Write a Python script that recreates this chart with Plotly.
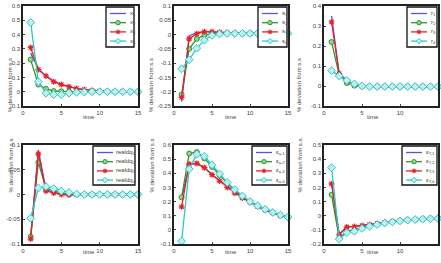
import plotly.graph_objects as go

W, H = 441, 263
time = list(range(1, 16))

x1 = [0.27, 0.16, 0.11, 0.075, 0.05, 0.035, 0.023, 0.015, 0.01, 0.006, 0.004, 0.002, 0.001, 0.0, 0.0]
x2 = [0.225, 0.05, 0.02, 0.005, 0.003, 0.002, 0.001, 0.0, 0.0, 0.0, 0.0, 0.0, 0.0, 0.0, 0.0]
x3 = [0.31, 0.155, 0.11, 0.07, 0.05, 0.035, 0.022, 0.015, 0.008, 0.005, 0.003, 0.002, 0.001, 0.0, 0.0]
x4 = [0.485, 0.07, -0.01, -0.02, -0.02, -0.01, -0.005, -0.002, 0.0, 0.0, 0.0, 0.0, 0.0, 0.0, 0.0]

s1 = [-0.235, -0.005, 0.007, 0.01, 0.008, 0.007, 0.006, 0.005, 0.004, 0.004, 0.004, 0.004, 0.004, 0.004, 0.004]
s2 = [-0.21, -0.05, -0.015, -0.002, 0.003, 0.004, 0.004, 0.004, 0.004, 0.004, 0.004, 0.004, 0.004, 0.004, 0.004]
s3 = [-0.22, -0.015, 0.003, 0.01, 0.01, 0.008, 0.006, 0.005, 0.004, 0.004, 0.004, 0.004, 0.004, 0.004, 0.004]
s4 = [-0.12, -0.088, -0.048, -0.02, -0.003, 0.002, 0.004, 0.004, 0.004, 0.004, 0.004, 0.004, 0.004, 0.004, 0.004]

r1 = [0.35, 0.06, 0.03, 0.005, -0.002, -0.003, -0.003, -0.003, -0.003, -0.003, -0.003, -0.003, -0.003, -0.003, -0.003]
r2 = [0.22, 0.055, 0.015, 0.002, -0.002, -0.003, -0.003, -0.003, -0.003, -0.003, -0.003, -0.003, -0.003, -0.003, -0.003]
r3 = [0.32, 0.062, 0.025, 0.005, -0.002, -0.003, -0.003, -0.003, -0.003, -0.003, -0.003, -0.003, -0.003, -0.003, -0.003]
r4 = [0.077, 0.05, 0.028, 0.01, 0.0, -0.003, -0.003, -0.003, -0.003, -0.003, -0.003, -0.003, -0.003, -0.003, -0.003]

q1 = [-0.085, 0.09, 0.01, 0.004, 0.001, 0.0, 0.0, 0.0, 0.0, 0.0, 0.0, 0.0, 0.0, 0.0, 0.0]
q2 = [-0.085, 0.065, 0.012, 0.007, 0.003, 0.001, 0.0, 0.0, 0.0, 0.0, 0.0, 0.0, 0.0, 0.0, 0.0]
q3 = [-0.09, 0.082, 0.007, 0.003, 0.0, -0.001, 0.0, 0.0, 0.0, 0.0, 0.0, 0.0, 0.0, 0.0, 0.0]
q4 = [-0.048, 0.013, 0.016, 0.012, 0.007, 0.004, 0.001, 0.0, 0.0, 0.0, 0.0, 0.0, 0.0, 0.0, 0.0]

ea1 = [0.22, 0.46, 0.47, 0.44, 0.39, 0.35, 0.305, 0.265, 0.23, 0.195, 0.165, 0.14, 0.12, 0.105, 0.09]
ea2 = [0.23, 0.54, 0.55, 0.505, 0.445, 0.385, 0.33, 0.28, 0.235, 0.2, 0.17, 0.145, 0.123, 0.105, 0.09]
ea3 = [0.163, 0.465, 0.47, 0.44, 0.39, 0.345, 0.3, 0.26, 0.225, 0.195, 0.165, 0.14, 0.12, 0.1, 0.088]
ea4 = [-0.08, 0.43, 0.535, 0.52, 0.46, 0.395, 0.335, 0.285, 0.24, 0.2, 0.17, 0.145, 0.123, 0.105, 0.09]

eT1 = [0.23, -0.13, -0.08, -0.075, -0.07, -0.062, -0.055, -0.047, -0.04, -0.035, -0.03, -0.027, -0.024, -0.021, -0.019]
eT2 = [0.148, -0.16, -0.11, -0.1, -0.085, -0.07, -0.06, -0.05, -0.042, -0.036, -0.031, -0.027, -0.024, -0.021, -0.019]
eT3 = [0.225, -0.135, -0.08, -0.077, -0.07, -0.062, -0.055, -0.047, -0.04, -0.035, -0.03, -0.027, -0.024, -0.021, -0.019]
eT4 = [0.34, -0.165, -0.12, -0.11, -0.09, -0.075, -0.063, -0.052, -0.044, -0.037, -0.031, -0.027, -0.024, -0.021, -0.019]

panels = [
    dict(series=[x1, x2, x3, x4], base="x", sub=["1", "2", "3", "4"],
         yr=[-0.1, 0.6], yt=[-0.1, 0, 0.1, 0.2, 0.3, 0.4, 0.5, 0.6],
         ytxt=["-0.1", "0", "0.1", "0.2", "0.3", "0.4", "0.5", "0.6"], ytitle="% deviation from s.s"),
    dict(series=[s1, s2, s3, s4], base="s", sub=["1", "2", "3", "4"],
         yr=[-0.25, 0.1], yt=[-0.25, -0.2, -0.15, -0.1, -0.05, 0, 0.05, 0.1],
         ytxt=["-0.25", "-0.2", "-0.15", "-0.1", "-0.05", "0", "0.05", "0.1"], ytitle="% deviation from s.s"),
    dict(series=[r1, r2, r3, r4], base="r", sub=["1", "2", "3", "4"],
         yr=[-0.1, 0.4], yt=[-0.1, 0, 0.1, 0.2, 0.3, 0.4],
         ytxt=["-0.1", "0", "0.1", "0.2", "0.3", "0.4"], ytitle="% deviation from s.s"),
    dict(series=[q1, q2, q3, q4], base="realdq", sub=["1", "2", "3", "4"],
         yr=[-0.1, 0.1], yt=[-0.1, -0.05, 0, 0.05, 0.1],
         ytxt=["-0.1", "-0.05", "0", "0.05", "0.1"], ytitle="% deviation from s.s"),
    dict(series=[ea1, ea2, ea3, ea4], base="ε", sub=["a,1", "a,2", "a,3", "a,4"],
         yr=[-0.1, 0.6], yt=[-0.1, 0, 0.1, 0.2, 0.3, 0.4, 0.5, 0.6],
         ytxt=["-0.1", "0", "0.1", "0.2", "0.3", "0.4", "0.5", "0.6"], ytitle="% deviation from s.s"),
    dict(series=[eT1, eT2, eT3, eT4], base="ε", sub=["T,1", "T,2", "T,3", "T,4"],
         yr=[-0.2, 0.5], yt=[-0.2, -0.1, 0, 0.1, 0.2, 0.3, 0.4, 0.5],
         ytxt=["-0.2", "-0.1", "0", "0.1", "0.2", "0.3", "0.4", "0.5"], ytitle="% deviation from s.s."),
]
xticks = [0, 5, 10, 15]

# layout geometry (pixels)
cols = [(23, 138), (174, 288), (324, 438)]
rows = [(6, 106), (145, 244)]
legboxes = [(106, 134, 7, 47), (258, 287, 7, 47), (407, 437, 7, 47),
            (93, 135, 146, 185), (252, 287, 146, 185), (402, 437, 146, 185)]
ytitle_x = [5, 151, 304]
xtitle_y = [117, 257]

colors = ["#5b50d6", "#2e962e", "#e52228", "#2ec8c8"]
markers = [None, dict(symbol="circle", size=5, color="#8fd48f", line=dict(color="#2e962e", width=1)),
           dict(symbol="asterisk-open", size=5, color="#e52228", line=dict(color="#e52228", width=1.2)),
           dict(symbol="diamond", size=6, color="#bff0f0", line=dict(color="#2ec8c8", width=1))]

def PX(px):
    return px / W

def PY(py):
    return 1 - py / H

fig = go.Figure()
layout = {}
shapes = []
annotations = []
FONT = "Liberation Sans, Arial"
axfont = dict(family=FONT, size=6, color="#444")

for i, p in enumerate(panels):
    r, c = divmod(i, 3)
    n = i + 1
    xa = "xaxis" if n == 1 else f"xaxis{n}"
    ya = "yaxis" if n == 1 else f"yaxis{n}"
    xref = "x" if n == 1 else f"x{n}"
    yref = "y" if n == 1 else f"y{n}"
    layout[xa] = dict(domain=[PX(cols[c][0]), PX(cols[c][1])], range=[0, 15], anchor=yref,
                      tickvals=xticks, ticktext=[str(t) for t in xticks], ticks="inside", ticklen=2,
                      showline=True, mirror=True, linecolor="#222", linewidth=1.5,
                      showgrid=False, zeroline=False, tickfont=axfont)
    layout[ya] = dict(domain=[PY(rows[r][1]), PY(rows[r][0])], range=p["yr"], anchor=xref,
                      tickvals=p["yt"], ticktext=p["ytxt"], ticks="inside", ticklen=2,
                      showline=True, mirror=True, linecolor="#222", linewidth=1.5,
                      showgrid=False, zeroline=False, tickfont=axfont)
    for k, ser in enumerate(p["series"]):
        fig.add_trace(go.Scatter(x=time, y=ser, xaxis=xref, yaxis=yref,
                                 mode="lines" if k == 0 else "lines+markers",
                                 line=dict(color=colors[k], width=1.3),
                                 marker=markers[k] if k else None,
                                 cliponaxis=False, showlegend=False))
    # axis titles
    annotations.append(dict(text=p["ytitle"], x=PX(ytitle_x[c]), y=PY((rows[r][0] + rows[r][1]) / 2),
                            xref="paper", yref="paper", showarrow=False, textangle=-90,
                            font=dict(family=FONT, size=6, color="#444")))
    annotations.append(dict(text="time", x=PX((cols[c][0] + cols[c][1]) / 2), y=PY(xtitle_y[r]),
                            xref="paper", yref="paper", showarrow=False,
                            font=dict(family=FONT, size=6, color="#444")))
    # legend box
    lx0, lx1, ly0, ly1 = legboxes[i]
    shapes.append(dict(type="rect", xref="paper", yref="paper", layer="above",
                       x0=PX(lx0), x1=PX(lx1), y0=PY(ly1), y1=PY(ly0),
                       fillcolor="white", line=dict(color="#111", width=1.3)))
    for k in range(4):
        yy = ly0 + 6.5 + 9.2 * k
        sx0 = lx0 + 4
        sx1 = sx0 + 16
        mx = (sx0 + sx1) / 2
        shapes.append(dict(type="line", xref="paper", yref="paper", layer="above",
                           x0=PX(sx0), x1=PX(sx1), y0=PY(yy), y1=PY(yy),
                           line=dict(color=colors[k], width=1.3)))
        if k == 1:
            shapes.append(dict(type="circle", xref="paper", yref="paper", layer="above",
                               x0=PX(mx - 2.2), x1=PX(mx + 2.2), y0=PY(yy + 2.2), y1=PY(yy - 2.2),
                               fillcolor="#8fd48f", line=dict(color=colors[k], width=1)))
        elif k == 2:
            for dx, dy in [(2.3, 0), (0, 2.3), (1.6, 1.6), (1.6, -1.6)]:
                shapes.append(dict(type="line", xref="paper", yref="paper", layer="above",
                                   x0=PX(mx - dx), x1=PX(mx + dx), y0=PY(yy - dy), y1=PY(yy + dy),
                                   line=dict(color=colors[k], width=1.1)))
        elif k == 3:
            d = 2.7
            path = (f"M {PX(mx - d)} {PY(yy)} L {PX(mx)} {PY(yy - d)} "
                    f"L {PX(mx + d)} {PY(yy)} L {PX(mx)} {PY(yy + d)} Z")
            shapes.append(dict(type="path", xref="paper", yref="paper", layer="above", path=path,
                               fillcolor="#bff0f0", line=dict(color=colors[k], width=1)))
        annotations.append(dict(text=f"{p['base']}<sub>{p['sub'][k]}</sub>", x=PX(sx1 + 1.5), y=PY(yy),
                                xref="paper", yref="paper", showarrow=False, xanchor="left",
                                yanchor="middle",
                                font=dict(family=FONT, size=6, color="#444")))

fig.update_layout(**layout)
fig.update_layout(width=W, height=H, margin=dict(l=0, r=0, t=0, b=0), autosize=False,
                  paper_bgcolor="white", plot_bgcolor="rgba(0,0,0,0)", template="none",
                  shapes=shapes, annotations=annotations, showlegend=False)
fig.write_html("out.html")
